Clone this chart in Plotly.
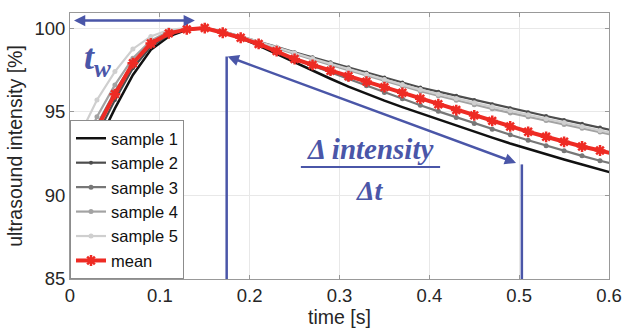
import plotly.graph_objects as go

time_s = [0.01, 0.03, 0.05, 0.07, 0.09, 0.11, 0.13, 0.15, 0.17, 0.19, 0.21, 0.23,
          0.25, 0.27, 0.29, 0.31, 0.33, 0.35, 0.37, 0.39, 0.41, 0.43, 0.45, 0.47,
          0.49, 0.51, 0.53, 0.55, 0.57, 0.59, 0.61]

sample1 = [90.4, 93.0, 95.2, 97.2, 98.7, 99.5, 99.9, 100.0, 99.75, 99.4, 98.95, 98.45,
           97.95, 97.45, 96.97, 96.5, 96.07, 95.66, 95.27, 94.9, 94.53, 94.16, 93.8, 93.45,
           93.1, 92.77, 92.45, 92.14, 91.84, 91.54, 91.25]
sample2 = [91.0, 93.6, 95.7, 97.6, 98.9, 99.6, 99.95, 100.0, 99.8, 99.5, 99.2, 98.88,
           98.55, 98.25, 97.95, 97.65, 97.35, 97.05, 96.75, 96.45, 96.2, 95.95, 95.7, 95.45,
           95.2, 94.97, 94.74, 94.51, 94.28, 94.05, 93.82]
sample3 = [91.6, 94.2, 96.2, 97.9, 99.1, 99.7, 99.95, 100.0, 99.75, 99.45, 99.05, 98.6,
           98.15, 97.75, 97.35, 96.95, 96.55, 96.15, 95.77, 95.39, 95.02, 94.66, 94.3, 93.95,
           93.62, 93.29, 92.97, 92.66, 92.36, 92.07, 91.8]
sample4 = [92.3, 94.7, 96.6, 98.2, 99.25, 99.8, 100.0, 100.0, 99.78, 99.48, 99.15, 98.8,
           98.45, 98.12, 97.8, 97.48, 97.16, 96.85, 96.54, 96.23, 95.95, 95.68, 95.42, 95.17,
           94.93, 94.7, 94.47, 94.24, 94.01, 93.78, 93.55]
sample5 = [93.5, 95.7, 97.4, 98.75, 99.5, 99.9, 100.0, 100.0, 99.8, 99.5, 99.18, 98.85,
           98.5, 98.18, 97.87, 97.55, 97.24, 96.93, 96.62, 96.32, 96.05, 95.79, 95.54, 95.29,
           95.05, 94.82, 94.58, 94.35, 94.12, 93.88, 93.65]
mean = [91.5, 94.0, 96.05, 97.9, 99.08, 99.68, 99.92, 100.0, 99.72, 99.42, 99.05, 98.62,
        98.15, 97.8, 97.45, 97.12, 96.8, 96.47, 96.13, 95.78, 95.45, 95.1, 94.78, 94.45,
        94.12, 93.8, 93.5, 93.2, 92.92, 92.68, 92.42]

x_ticks = [0, 0.1, 0.2, 0.3, 0.4, 0.5, 0.6]
x_tick_labels = ["0", "0.1", "0.2", "0.3", "0.4", "0.5", "0.6"]
y_ticks = [85, 90, 95, 100]
y_tick_labels = ["85", "90", "95", "100"]

# annotation geometry (data coordinates)
tw_arrow = dict(x0=0.0, x1=0.139, y=100.45)
slope_arrow = dict(x0=0.1755, y0=98.3, x1=0.501, y1=91.85)
vline_left = dict(x=0.1744, y0=85, y1=98.3)
vline_right = dict(x=0.503, y0=85, y1=91.85)
frac_bar = dict(x0=0.257, x1=0.412, y=91.7)

BLUE = "#4a56a8"
FONT = "Liberation Sans"

fig = go.Figure()

series = [
    ("sample 1", sample1, "#111111", 2.5, "lines", None, 0),
    ("sample 2", sample2, "#4d4d4d", 2.2, "lines+markers", "circle", 4),
    ("sample 3", sample3, "#777777", 2.2, "lines+markers", "circle", 5),
    ("sample 4", sample4, "#a3a3a3", 2.2, "lines+markers", "circle", 5),
    ("sample 5", sample5, "#cfcfcf", 2.2, "lines+markers", "circle", 5),
]
for name, ys, col, w, mode, sym, ms in series:
    kw = dict(x=time_s, y=ys, name=name, mode=mode,
              line=dict(color=col, width=w))
    if sym:
        kw["marker"] = dict(symbol=sym, size=ms, color=col)
    fig.add_trace(go.Scatter(**kw))

fig.add_trace(go.Scatter(
    x=time_s, y=mean, name="mean", mode="lines+markers",
    line=dict(color="#ee2b24", width=4),
    marker=dict(symbol="asterisk-open", size=9, color="#ee2b24",
                line=dict(color="#ee2b24", width=2.5)),
))

shapes = []
for v in (vline_left, vline_right):
    shapes.append(dict(type="line", xref="x", yref="y", x0=v["x"], x1=v["x"],
                       y0=v["y0"], y1=v["y1"], line=dict(color=BLUE, width=2.5)))
shapes.append(dict(type="line", xref="x", yref="y", x0=frac_bar["x0"], x1=frac_bar["x1"],
                   y0=frac_bar["y"], y1=frac_bar["y"], line=dict(color=BLUE, width=2)))

arrow_style = dict(xref="x", yref="y", axref="x", ayref="y", text=" ", showarrow=True,
                   arrowhead=2, startarrowhead=2, arrowside="end+start", arrowwidth=2.5,
                   arrowsize=0.9, startarrowsize=0.9, arrowcolor=BLUE)
annotations = [
    dict(x=tw_arrow["x1"], y=tw_arrow["y"], ax=tw_arrow["x0"], ay=tw_arrow["y"], **arrow_style),
    dict(x=slope_arrow["x0"], y=slope_arrow["y0"], ax=slope_arrow["x1"], ay=slope_arrow["y1"],
         **arrow_style),
    dict(x=0.031, y=98.1, xref="x", yref="y", showarrow=False,
         text="<b><i>t</i></b><sub><b><i>w</i></b></sub>",
         font=dict(family="Liberation Serif", size=36, color=BLUE)),
    dict(x=0.3344, y=92.75, xref="x", yref="y", showarrow=False,
         text="<b><i>\u0394 intensity</i></b>",
         font=dict(family="Liberation Serif", size=29, color=BLUE)),
    dict(x=0.3344, y=90.3, xref="x", yref="y", showarrow=False,
         text="<b><i>\u0394t</i></b>",
         font=dict(family="Liberation Serif", size=28, color=BLUE)),
]

fig.update_layout(
    width=624, height=333,
    margin=dict(l=70, r=15, t=13, b=54),
    paper_bgcolor="white", plot_bgcolor="white",
    font=dict(family=FONT, size=18.5, color="#262626"),
    showlegend=True,
    legend=dict(x=0, y=0, xanchor="left", yanchor="bottom",
                bgcolor="white", bordercolor="#8c8c8c", borderwidth=1,
                font=dict(family=FONT, size=16.5, color="#111111"),
                itemwidth=30, tracegroupgap=0),
    shapes=shapes,
    annotations=annotations,
    xaxis=dict(range=[0, 0.6], tickvals=x_ticks, ticktext=x_tick_labels,
               showgrid=True, gridcolor="#e8e8e8", gridwidth=1, automargin=False,
               showline=True, linecolor="#999999", linewidth=1, mirror="ticks",
               ticks="inside", ticklen=4, tickcolor="#999999",
               zeroline=False, title=dict(text="time [s]", standoff=5,
                                          font=dict(size=19.5))),
    yaxis=dict(range=[85, 100.9], tickvals=y_ticks, ticktext=y_tick_labels,
               showgrid=True, gridcolor="#e8e8e8", gridwidth=1, automargin=False,
               showline=True, linecolor="#999999", linewidth=1, mirror="ticks",
               ticks="inside", ticklen=4, tickcolor="#999999",
               zeroline=False, title=dict(text="ultrasound intensity [%]", standoff=6,
                                          font=dict(size=19.5))),
)

# remove the page's default body margin so the 624x333 figure fills the window exactly
fig.write_html("out.html", config={"displayModeBar": False},
               post_script="document.body.style.margin='0';document.body.style.overflow='hidden';")
